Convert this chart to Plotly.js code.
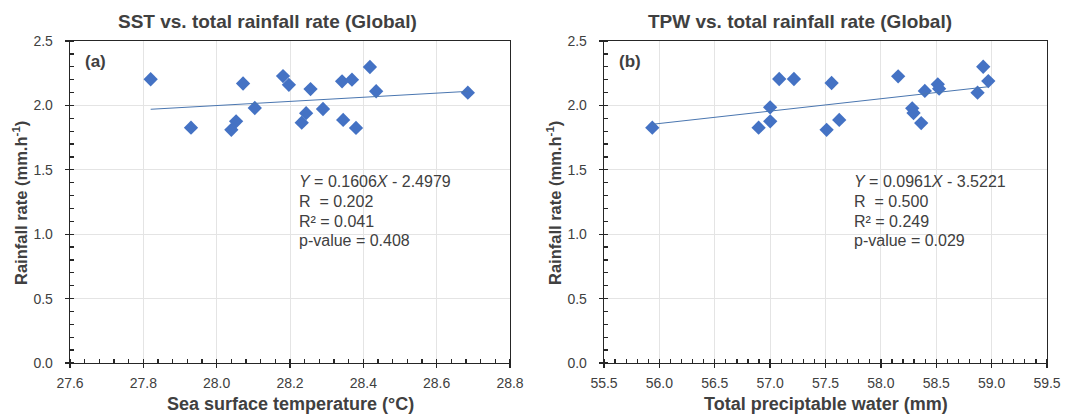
<!DOCTYPE html>
<html><head><meta charset="utf-8">
<script src="https://cdn.plot.ly/plotly-3.0.1.min.js"></script>
<style>html,body{margin:0;padding:0;background:#fff}#chart{width:1066px;height:417px}</style>
</head><body><div id="chart"></div>
<script>
// Panel (a): SST vs rainfall rate
const sstX = [27.82, 27.93, 28.04, 28.053, 28.072, 28.104, 28.181, 28.197, 28.232, 28.244,
              28.256, 28.29, 28.342, 28.345, 28.369, 28.38, 28.418, 28.435, 28.685];
const sstY = [2.203, 1.827, 1.81, 1.876, 2.17, 1.98, 2.228, 2.16, 1.866, 1.94,
              2.127, 1.972, 2.187, 1.887, 2.2, 1.825, 2.298, 2.11, 2.099];
const sstSlope = 0.1606, sstIntercept = -2.4979;
const sstStats = ["<i>Y</i> = 0.1606<i>X</i> - 2.4979", "R\u00a0 = 0.202", "R\u00b2 = 0.041", "p-value = 0.408"];

// Panel (b): TPW vs rainfall rate
const tpwX = [55.936, 56.896, 57.001, 57.0, 57.082, 57.215, 57.51, 57.555, 57.624, 58.156,
              58.283, 58.295, 58.364, 58.397, 58.514, 58.526, 58.873, 58.924, 58.97];
const tpwY = [1.827, 1.827, 1.876, 1.985, 2.205, 2.205, 1.81, 2.174, 1.887, 2.226,
              1.977, 1.941, 1.863, 2.112, 2.164, 2.13, 2.099, 2.3, 2.189];
const tpwSlope = 0.0961, tpwIntercept = -3.5221;
const tpwStats = ["<i>Y</i> = 0.0961<i>X</i> - 3.5221", "R\u00a0 = 0.500", "R\u00b2 = 0.249", "p-value = 0.029"];

const titles = ["SST vs. total rainfall rate (Global)", "TPW vs. total rainfall rate (Global)"];
const xTitles = ["Sea surface temperature (\u00b0C)", "Total preciptable water (mm)"];
const yTitle = "Rainfall rate (mm.h<sup>-1</sup>)";
const panelLabels = ["(a)", "(b)"];

function trend(xs, m, b) {
  const lo = Math.min(...xs), hi = Math.max(...xs);
  return {x: [lo, hi], y: [m * lo + b, m * hi + b]};
}
const t1 = trend(sstX, sstSlope, sstIntercept);
const t2 = trend(tpwX, tpwSlope, tpwIntercept);

const blue = '#4472c4';
const FONT = 'Arial, "Liberation Sans", sans-serif';
const txt = '#404040';
const axc = '#262626';

const traces = [
  {x: sstX, y: sstY, type: 'scatter', mode: 'markers', xaxis: 'x', yaxis: 'y',
   marker: {symbol: 'diamond', size: 11, color: blue}},
  {x: t1.x, y: t1.y, type: 'scatter', mode: 'lines', xaxis: 'x', yaxis: 'y',
   line: {color: '#4a76b0', width: 1}},
  {x: tpwX, y: tpwY, type: 'scatter', mode: 'markers', xaxis: 'x2', yaxis: 'y2',
   marker: {symbol: 'diamond', size: 11, color: blue}},
  {x: t2.x, y: t2.y, type: 'scatter', mode: 'lines', xaxis: 'x2', yaxis: 'y2',
   line: {color: '#4a76b0', width: 1}},
  // empty traces so the inner-tick overlay axes are drawn
  {x: [], y: [], type: 'scatter', mode: 'markers', xaxis: 'x3', yaxis: 'y3', hoverinfo: 'skip'},
  {x: [], y: [], type: 'scatter', mode: 'markers', xaxis: 'x4', yaxis: 'y4', hoverinfo: 'skip'}
];

function xax(domain, range, dtick, mdtick, anchor) {
  return {domain, range, dtick, tick0: range[0], anchor, showline: true, mirror: true,
    linecolor: axc, linewidth: 1.3, ticks: 'outside', ticklen: 4, tickcolor: axc,
    tickwidth: 1.3, showgrid: true, gridcolor: '#e4e4e4', gridwidth: 1, zeroline: false,
    tickformat: '.1f', tickfont: {family: FONT, size: 14, color: txt}, ticklabelstandoff: 3,
    minor: {dtick: mdtick, ticks: 'inside', ticklen: 4, tickcolor: axc, showgrid: false}};
}
function yax(domain, anchor) {
  return {domain, range: [0, 2.5], dtick: 0.5, anchor, showline: true, mirror: true,
    linecolor: axc, linewidth: 1.3, ticks: 'outside', ticklen: 4, tickcolor: axc,
    tickwidth: 1.3, showgrid: true, gridcolor: '#e4e4e4', gridwidth: 1, zeroline: false,
    tickformat: '.1f', tickfont: {family: FONT, size: 14, color: txt}, ticklabelstandoff: 9,
    minor: {dtick: 0.1, ticks: 'inside', ticklen: 4, tickcolor: axc, showgrid: false}};
}
function innerTicks(base, over, anchor) {
  return {domain: base.domain, range: base.range, dtick: base.dtick, tick0: base.range[0],
    overlaying: over, anchor, ticks: 'inside', ticklen: 4, tickcolor: axc, tickwidth: 1.3,
    showticklabels: false, showgrid: false, showline: false, zeroline: false};
}

const W = 1066, H = 417;
const yDom = [1 - 363/H, 1 - 41/H];
const xa1 = xax([70/W, 510/W], [27.6, 28.8], 0.2, 0.04, 'y');
const ya1 = yax(yDom, 'x');
const xa2 = xax([604/W, 1047/W], [55.5, 59.5], 0.5, 0.1, 'y2');
const ya2 = yax(yDom, 'x2');

const annotations = [];
function addText(text, px, py, size, bold, opts) {
  annotations.push(Object.assign({text: bold ? '<b>' + text + '</b>' : text,
    xref: 'paper', yref: 'paper', x: px / W, y: 1 - py / H, showarrow: false,
    xanchor: 'center', yanchor: 'middle',
    font: {family: FONT, size, color: txt}}, opts || {}));
}
addText(titles[0], 267, 21, 19, true);
addText(titles[1], 800, 21, 19, true);
addText(xTitles[0], 290, 404, 18, true);
addText(xTitles[1], 825.5, 404, 18, true);
addText(yTitle, 20, 203, 16.5, true, {textangle: -90});
addText(yTitle, 554, 203, 16.5, true, {textangle: -90});
addText(panelLabels[0], 83, 62, 17, true, {xanchor: 'left'});
addText(panelLabels[1], 617, 62, 17, true, {xanchor: 'left'});
const lineY = [181.7, 201.7, 221.7, 241];
sstStats.forEach((s, i) => addText(s, 297, lineY[i], 16, false, {xanchor: 'left'}));
tpwStats.forEach((s, i) => addText(s, 852, lineY[i], 16, false, {xanchor: 'left'}));

const layout = {
  width: W, height: H, margin: {l: 0, r: 0, t: 0, b: 0},
  paper_bgcolor: '#fff', plot_bgcolor: '#fff', showlegend: false,
  xaxis: xa1, yaxis: ya1, xaxis2: xa2, yaxis2: ya2,
  xaxis3: innerTicks(xa1, 'x', 'y3'), yaxis3: innerTicks(ya1, 'y', 'x3'),
  xaxis4: innerTicks(xa2, 'x2', 'y4'), yaxis4: innerTicks(ya2, 'y2', 'x4'),
  annotations
};
Plotly.newPlot('chart', traces, layout, {staticPlot: true, displayModeBar: false});
</script>
</body></html>
